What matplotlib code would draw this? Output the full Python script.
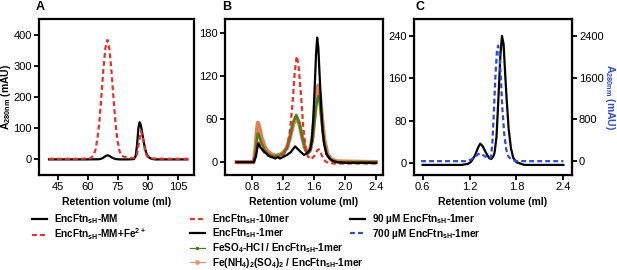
import matplotlib
matplotlib.use("Agg")
import matplotlib.pyplot as plt
from matplotlib.lines import Line2D

plt.rcParams['font.family'] = ['Liberation Sans', 'DejaVu Sans']
plt.rcParams['mathtext.fontset'] = 'custom'
plt.rcParams['mathtext.rm'] = 'Liberation Sans:bold'
plt.rcParams['mathtext.bf'] = 'Liberation Sans:bold'
plt.rcParams['mathtext.default'] = 'bf'
plt.rcParams['font.size'] = 7

# ---- panel A: retention volume (ml) / A280 (mAU)
a_mm_x = [40.5, 60, 65.5, 67, 68, 69, 69.8, 70.6, 71.5, 72.5, 74, 76, 80, 83, 83.8, 84.5,
          85.2, 85.8, 86.4, 87.1, 87.8, 88.6, 89.4, 90.2, 91, 92, 93.5, 100, 109.7]
a_mm_y = [0, 0, 0.5, 3, 7, 11.5, 13, 11.5, 7.5, 4, 1, 0, 0, 1, 10, 45,
          100, 119, 110, 85, 58, 32, 16, 8, 4, 1.5, 0, 0, 0]
a_fe_x = [40.5, 55, 61, 62.7, 63.7, 64.7, 65.7, 66.7, 67.7, 68.7, 69.7, 70.7, 71.7, 72.7,
          73.7, 74.7, 75.7, 76.7, 80, 83.5, 84.5, 85.5, 86.5, 87.5, 88.5, 89.5, 90.5, 92, 100, 110]
a_fe_y = [2, 2, 3, 12, 30, 66, 123, 203, 290, 357, 383, 355, 285, 200,
          120, 62, 28, 12, 4, 5, 16, 55, 91, 68, 30, 10, 5, 3, 2, 2]

# ---- panel B
b_10mer_x = [0.6, 0.82, 0.85, 0.875, 0.9, 0.95, 1.0, 1.1, 1.2, 1.25, 1.29, 1.32, 1.35, 1.376,
             1.4, 1.43, 1.46, 1.49, 1.52, 1.56, 1.6, 1.64, 1.66, 1.69, 1.72, 1.76, 1.85, 2.4]
b_10mer_y = [0, 0, 15, 30, 24, 14, 9, 6, 10, 18, 45, 80, 125, 148,
             135, 95, 50, 20, 8, 4, 8, 16, 18, 12, 4, 0, -2, -2]
b_1mer_x = [0.6, 0.82, 0.85, 0.877, 0.91, 0.97, 1.03, 1.1, 1.13, 1.16, 1.25, 1.3, 1.355,
            1.42, 1.47, 1.5, 1.52, 1.55, 1.57, 1.59, 1.61, 1.625, 1.64, 1.655, 1.67,
            1.69, 1.71, 1.73, 1.76, 1.8, 1.85, 1.9, 2.0, 2.4]
b_1mer_y = [0, 0, 8, 26, 20, 13, 8, 5, 7, 5, 10, 14, 22,
            15, 10, 12, 14, 18, 30, 60, 110, 150, 174, 160, 125,
            80, 45, 25, 11, 5, 1, 0, -1, -1]
b_feso4_x = [0.6, 0.82, 0.84, 0.86, 0.875, 0.89, 0.92, 0.96, 1.0, 1.05, 1.1, 1.15, 1.2, 1.25,
             1.29, 1.33, 1.37, 1.41, 1.45, 1.49, 1.52, 1.55, 1.58, 1.61, 1.635, 1.655,
             1.675, 1.7, 1.73, 1.77, 1.82, 1.9, 2.4]
b_feso4_y = [0, 0, 10, 30, 40, 37, 27, 17, 12, 9, 8, 9, 12, 20,
             35, 56, 66, 55, 33, 16, 12, 15, 30, 60, 85, 92,
             82, 55, 28, 10, 3, 0, 0]
b_fenh4_x = b_feso4_x
b_fenh4_y = [0, 0, 15, 42, 55, 50, 35, 22, 15, 11, 9, 10, 13, 20,
             35, 53, 62, 53, 33, 18, 14, 18, 35, 70, 98, 107,
             95, 65, 33, 12, 4, 1, 0]

# ---- panel C
c_90_x = [0.6, 1.1, 1.18, 1.22, 1.27, 1.31, 1.337, 1.37, 1.41, 1.45, 1.475, 1.5, 1.52, 1.545,
          1.57, 1.595, 1.615, 1.635, 1.655, 1.675, 1.7, 1.73, 1.76, 1.8, 1.9, 2.4]
c_90_y = [-3, -3, -1, 3, 15, 30, 37, 32, 20, 10, 8, 12, 20, 50,
          125, 205, 240, 225, 170, 120, 65, 28, 10, 2, -3, -3]
c_700_x = [0.58, 1.15, 1.22, 1.28, 1.33, 1.38, 1.44, 1.47, 1.49, 1.51, 1.53, 1.55, 1.565,
           1.58, 1.6, 1.62, 1.645, 1.67, 1.7, 1.75, 1.8, 2.4]
c_700_y = [0, 0, 30, 100, 150, 110, 50, 60, 300, 900, 1600, 2100, 2210,
           2100, 1600, 1000, 500, 220, 80, 20, 0, 0]

RED = '#e8302a'
BLUE = '#2b4ad8'
GREEN = '#4a7d1c'
ORANGE = '#dc6a35'
DASH = (0, (2.2, 1.4))
W, H = 617, 270


def box(l, t, r, b):
    return [l / W, 1 - b / H, (r - l) / W, (b - t) / H]


def style(ax):
    for s in ax.spines.values():
        s.set_linewidth(1.6)
    ax.tick_params(direction='out', length=3.5, width=1.3, labelsize=8, pad=1.5)
    ax.set_xlabel('Retention volume (ml)', fontweight='bold', fontsize=7.5, labelpad=3.5)


def legend(ax, handles, labels, x):
    ax.legend(handles, labels, loc='upper left', bbox_to_anchor=(x / W, 1 - 212 / H),
              bbox_transform=fig.transFigure, frameon=False, handlelength=1.45,
              handletextpad=0.8, labelspacing=0.08, prop={'weight': 'bold', 'size': 7.2},
              borderaxespad=0, borderpad=0)


fig = plt.figure(figsize=(W / 100, H / 100), dpi=100)
ylab = r'A$_{\mathbf{280nm}}$ (mAU)'

axA = fig.add_axes(box(39, 19, 194, 175))
axA.plot(a_mm_x, a_mm_y, color='black', lw=1.6)
axA.plot(a_fe_x, a_fe_y, color=RED, lw=1.6, ls=DASH)
axA.set_xlim(35.5, 113)
axA.set_ylim(-50, 450)
axA.set_xticks([45, 60, 75, 90, 105])
axA.set_yticks([0, 100, 200, 300, 400])
axA.set_ylabel(ylab, fontweight='bold', fontsize=7.5)
axA.yaxis.set_label_coords(-0.165, 0.5)
style(axA)
hA = [Line2D([], [], color='black', lw=1.6), Line2D([], [], color=RED, lw=1.6, ls=DASH)]
lA = [r'EncFtn$_{sH}$-MM', r'EncFtn$_{sH}$-MM+Fe$^{2+}$']
legend(axA, hA, lA, 32)

axB = fig.add_axes(box(225, 19, 383, 175))
axB.plot(b_fenh4_x, b_fenh4_y, color=ORANGE, lw=3.0, alpha=0.85)
axB.plot(b_feso4_x, b_feso4_y, color=GREEN, lw=1.8)
axB.plot(b_10mer_x, b_10mer_y, color=RED, lw=1.6, ls=DASH)
axB.plot(b_1mer_x, b_1mer_y, color='black', lw=1.6)
axB.set_xlim(0.45, 2.49)
axB.set_ylim(-18, 200)
axB.set_xticks([0.8, 1.2, 1.6, 2.0, 2.4])
axB.set_yticks([0, 60, 120, 180])
style(axB)
hB = [Line2D([], [], color=RED, lw=1.6, ls=DASH),
      Line2D([], [], color='black', lw=1.6),
      Line2D([], [], color=GREEN, lw=0.9, marker='o', ms=1.5),
      Line2D([], [], color='#e39a72', lw=0.9, marker='o', ms=2.5)]
lB = [r'EncFtn$_{sH}$-10mer', r'EncFtn$_{sH}$-1mer',
      r'FeSO$_4$-HCl / EncFtn$_{sH}$-1mer',
      r'Fe(NH$_4$)$_2$(SO$_4$)$_2$ / EncFtn$_{sH}$-1mer']
legend(axB, hB, lB, 190)

axC = fig.add_axes(box(414, 19, 572, 175))
axC.plot(c_90_x, c_90_y, color='black', lw=1.6)
axC.set_xlim(0.49, 2.51)
axC.set_ylim(-22, 272)
axC.set_xticks([0.6, 1.2, 1.8, 2.4])
axC.set_yticks([0, 80, 160, 240])
style(axC)
axC2 = axC.twinx()
axC2.plot(c_700_x, c_700_y, color=BLUE, lw=1.6, ls=DASH)
axC2.set_ylim(-265, 2720)
axC2.set_yticks([0, 800, 1600, 2400])
axC2.tick_params(direction='out', length=3.5, width=1.3, labelsize=8, pad=1.5)
axC2.set_ylabel(ylab, fontweight='bold', fontsize=7.5, color=BLUE, rotation=270)
axC2.yaxis.set_label_coords(1.285, 0.5)
hC = [Line2D([], [], color='black', lw=1.6), Line2D([], [], color=BLUE, lw=1.6, ls=DASH)]
lC = [r'90 µM EncFtn$_{sH}$-1mer', r'700 µM EncFtn$_{sH}$-1mer']
legend(axC, hC, lC, 350)

for lab, x in [('A', 36), ('B', 222), ('C', 415)]:
    fig.text(x / W, 1 - 7 / H, lab, fontsize=9, fontweight='bold', va='center', ha='left')

fig.savefig('out.png', dpi=100)
